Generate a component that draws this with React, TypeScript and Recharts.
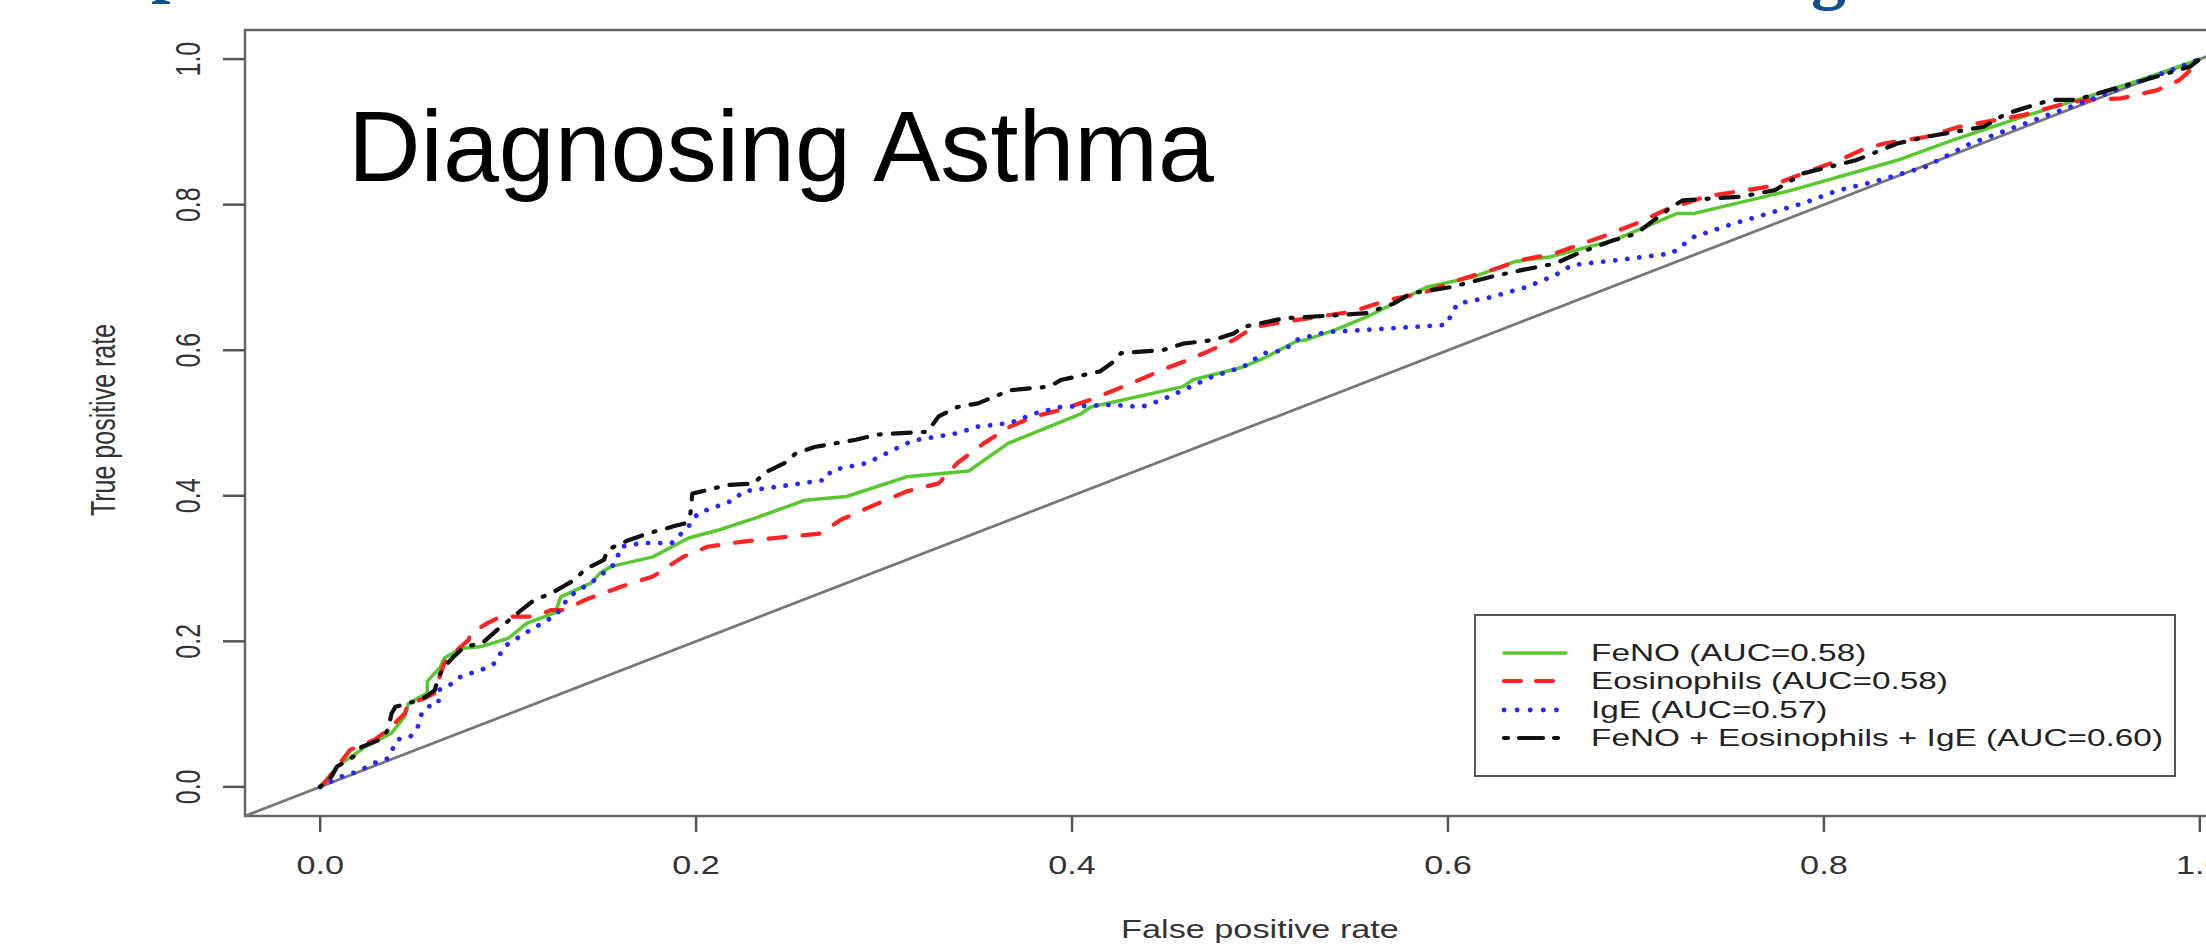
import React from "react";
import { LineChart, Line, XAxis, YAxis, ReferenceArea, ReferenceLine, Legend } from "recharts";

// tick values on both axes
const xTicks = [0, 0.2, 0.4, 0.6, 0.8, 1.0];
const yTicks = [0, 0.2, 0.4, 0.6, 0.8, 1.0];

// ROC curves: [false positive rate, true positive rate]
const fenoRoc = [
    [0, 0], [0.009, 0.028], [0.024, 0.055], [0.038, 0.074], [0.045, 0.097], [0.047, 0.115],
    [0.057, 0.129], [0.057, 0.145], [0.064, 0.165], [0.066, 0.177], [0.075, 0.19], [0.086, 0.193],
    [0.1, 0.204], [0.11, 0.225], [0.125, 0.239], [0.128, 0.261], [0.144, 0.28], [0.149, 0.294],
    [0.155, 0.303], [0.177, 0.316], [0.196, 0.342], [0.212, 0.353], [0.231, 0.369], [0.258, 0.394],
    [0.28, 0.399], [0.312, 0.426], [0.345, 0.434], [0.366, 0.472], [0.405, 0.513], [0.41, 0.522],
    [0.459, 0.55], [0.464, 0.559], [0.491, 0.577], [0.502, 0.589], [0.519, 0.612], [0.524, 0.614],
    [0.54, 0.628], [0.557, 0.646], [0.589, 0.687], [0.614, 0.701], [0.636, 0.722], [0.654, 0.728],
    [0.688, 0.751], [0.722, 0.788], [0.731, 0.788], [0.783, 0.82], [0.839, 0.861], [0.869, 0.889],
    [0.906, 0.921], [0.946, 0.953], [0.968, 0.971], [1, 1],
];

const eosRoc = [
    [0, 0], [0.004, 0.01], [0.009, 0.028], [0.016, 0.051], [0.02, 0.055], [0.029, 0.065],
    [0.036, 0.078], [0.045, 0.101], [0.047, 0.115], [0.054, 0.12], [0.061, 0.129], [0.063, 0.147],
    [0.066, 0.17], [0.071, 0.184], [0.079, 0.202], [0.08, 0.211], [0.089, 0.225], [0.096, 0.234],
    [0.114, 0.234], [0.123, 0.243], [0.13, 0.243], [0.141, 0.257], [0.16, 0.275], [0.177, 0.289],
    [0.193, 0.316], [0.206, 0.33], [0.225, 0.337], [0.242, 0.342], [0.266, 0.348], [0.277, 0.367],
    [0.291, 0.383], [0.312, 0.406], [0.329, 0.417], [0.339, 0.445], [0.353, 0.472], [0.367, 0.495],
    [0.38, 0.509], [0.394, 0.518], [0.41, 0.532], [0.432, 0.555], [0.448, 0.573], [0.464, 0.589],
    [0.486, 0.614], [0.497, 0.632], [0.513, 0.639], [0.549, 0.653], [0.568, 0.669], [0.586, 0.678],
    [0.605, 0.696], [0.623, 0.71], [0.639, 0.724], [0.657, 0.733], [0.682, 0.756], [0.7, 0.774],
    [0.716, 0.793], [0.737, 0.811], [0.771, 0.825], [0.789, 0.843], [0.808, 0.861], [0.82, 0.875],
    [0.832, 0.884], [0.854, 0.893], [0.872, 0.907], [0.891, 0.916], [0.906, 0.923], [0.928, 0.939],
    [0.94, 0.944], [0.958, 0.946], [0.977, 0.957], [0.989, 0.971], [0.995, 0.985], [1, 1],
];

const igeRoc = [
    [0, 0], [0.011, 0.014], [0.02, 0.021], [0.029, 0.033], [0.036, 0.039], [0.041, 0.065],
    [0.048, 0.069], [0.052, 0.083], [0.054, 0.101], [0.057, 0.11], [0.063, 0.115], [0.063, 0.133],
    [0.068, 0.138], [0.075, 0.152], [0.086, 0.161], [0.093, 0.17], [0.098, 0.193], [0.112, 0.216],
    [0.121, 0.229], [0.128, 0.243], [0.132, 0.261], [0.146, 0.284], [0.157, 0.307], [0.16, 0.33],
    [0.171, 0.335], [0.187, 0.335], [0.196, 0.358], [0.201, 0.376], [0.22, 0.394], [0.225, 0.406],
    [0.242, 0.412], [0.269, 0.422], [0.272, 0.435], [0.291, 0.445], [0.301, 0.458], [0.312, 0.472],
    [0.318, 0.477], [0.339, 0.486], [0.35, 0.495], [0.367, 0.5], [0.38, 0.513], [0.394, 0.522],
    [0.421, 0.525], [0.437, 0.522], [0.448, 0.532], [0.459, 0.545], [0.475, 0.564], [0.491, 0.577],
    [0.502, 0.596], [0.513, 0.6], [0.519, 0.614], [0.535, 0.625], [0.557, 0.628], [0.599, 0.635],
    [0.605, 0.664], [0.623, 0.673], [0.642, 0.687], [0.657, 0.703], [0.666, 0.717], [0.691, 0.724],
    [0.719, 0.733], [0.731, 0.756], [0.752, 0.774], [0.768, 0.786], [0.789, 0.802], [0.808, 0.82],
    [0.826, 0.831], [0.854, 0.852], [0.878, 0.884], [0.897, 0.902], [0.921, 0.925], [0.946, 0.948],
    [0.965, 0.967], [0.983, 0.983], [1, 1],
];

const comboRoc = [
    [0, 0], [0.006, 0.014], [0.009, 0.028], [0.018, 0.042], [0.022, 0.055], [0.032, 0.065],
    [0.036, 0.078], [0.038, 0.101], [0.04, 0.11], [0.047, 0.115], [0.054, 0.12], [0.061, 0.133],
    [0.063, 0.152], [0.066, 0.165], [0.071, 0.179], [0.077, 0.193], [0.086, 0.197], [0.096, 0.22],
    [0.103, 0.234], [0.107, 0.243], [0.114, 0.257], [0.123, 0.266], [0.135, 0.284], [0.139, 0.294],
    [0.144, 0.303], [0.151, 0.312], [0.153, 0.326], [0.164, 0.339], [0.174, 0.348], [0.188, 0.358],
    [0.194, 0.362], [0.197, 0.376], [0.198, 0.403], [0.217, 0.415], [0.231, 0.417], [0.236, 0.431],
    [0.247, 0.445], [0.253, 0.458], [0.263, 0.467], [0.285, 0.477], [0.296, 0.484], [0.323, 0.488],
    [0.329, 0.509], [0.339, 0.522], [0.35, 0.527], [0.367, 0.545], [0.388, 0.55], [0.394, 0.559],
    [0.415, 0.571], [0.421, 0.582], [0.426, 0.596], [0.448, 0.6], [0.459, 0.609], [0.475, 0.614],
    [0.486, 0.623], [0.491, 0.632], [0.513, 0.644], [0.54, 0.648], [0.557, 0.651], [0.571, 0.664],
    [0.58, 0.678], [0.602, 0.687], [0.623, 0.701], [0.639, 0.71], [0.657, 0.719], [0.669, 0.733],
    [0.688, 0.751], [0.7, 0.76], [0.719, 0.797], [0.725, 0.806], [0.756, 0.811], [0.774, 0.82],
    [0.789, 0.843], [0.817, 0.861], [0.839, 0.884], [0.854, 0.893], [0.885, 0.907], [0.897, 0.925],
    [0.921, 0.944], [0.934, 0.944], [0.958, 0.962], [0.977, 0.976], [0.995, 0.99], [1, 1],
];

const seriesNames = [
    "FeNO (AUC=0.58)",
    "Eosinophils (AUC=0.58)",
    "IgE (AUC=0.57)",
    "FeNO + Eosinophils + IgE (AUC=0.60)",
];

// the R plot was stretched sideways when pasted into the slide
const SX = 1.37;
const FONT = "'Liberation Sans', Arial, Helvetica, sans-serif";

const toPoints = (pairs: number[][]) => pairs.map(([fpr, tpr]) => ({ fpr, tpr }));

const series = [
    { name: seriesNames[0], data: toPoints(fenoRoc), color: "#57c92e", width: 3.5, dash: undefined, legendDash: undefined },
    { name: seriesNames[1], data: toPoints(eosRoc), color: "#ff2424", width: 4.2, dash: "17 17", legendDash: "17 15" },
    { name: seriesNames[2], data: toPoints(igeRoc), color: "#2626ff", width: 4.8, dash: "0.1 12", legendDash: "0.1 13" },
    { name: seriesNames[3], data: toPoints(comboRoc), color: "#111111", width: 4.2, dash: "2 12 18 12", legendDash: "4 11 24 11" },
];

function XTick({ x, y, payload }: any) {
    return (
        <text transform={`translate(${x},${y + 40}) scale(${SX},1)`} textAnchor="middle" fontSize={25} fill="#333" fontFamily={FONT}>
            {Number(payload.value).toFixed(1)}
        </text>
    );
}

function YTick({ x, y, payload }: any) {
    return (
        <text transform={`translate(${x - 21},${y}) scale(${SX},1) rotate(-90)`} textAnchor="middle" fontSize={25} fill="#333" fontFamily={FONT}>
            {Number(payload.value).toFixed(1)}
        </text>
    );
}

function XTitle({ viewBox }: any) {
    const vb = viewBox || { x: 245, y: 816, width: 2030, height: 133 };
    return (
        <text transform={`translate(${vb.x + vb.width / 2},${vb.y + 122}) scale(${SX},1)`} textAnchor="middle" fontSize={25} fill="#333" fontFamily={FONT}>
            False positive rate
        </text>
    );
}

function YTitle({ viewBox }: any) {
    const vb = viewBox || { x: 0, y: 30, width: 245, height: 786 };
    return (
        <text transform={`translate(115,${vb.y + vb.height / 2 - 3}) scale(${SX},1) rotate(-90)`} textAnchor="middle" fontSize={25} fill="#333" fontFamily={FONT}>
            True positive rate
        </text>
    );
}

function RocLegend() {
    return (
        <div style={{ width: 702, height: 163, boxSizing: "border-box", border: "2.5px solid #555", background: "#fff", position: "relative", fontFamily: FONT }}>
            {series.map((s, i) => (
                <div key={s.name} style={{ position: "absolute", left: 0, top: 22.5 + i * 28.5, height: 28, width: "100%" }}>
                    <svg width={100} height={28} style={{ position: "absolute", left: 0, top: 0 }}>
                        <line x1={28} x2={90} y1={14} y2={14} stroke={s.color} strokeWidth={s.width} strokeDasharray={s.legendDash} strokeLinecap="round" />
                    </svg>
                    <span style={{ position: "absolute", left: 115, top: 0, lineHeight: "28px", fontSize: 24, whiteSpace: "nowrap", color: "#222", transform: "scaleX(1.39)", transformOrigin: "0 50%" }}>
                        {s.name}
                    </span>
                </div>
            ))}
        </div>
    );
}

export default function App() {
    return (
        <div style={{ position: "absolute", left: 0, top: 0, width: 2206, height: 949, overflow: "hidden", background: "#fff" }}>
            <LineChart width={2300} height={949} margin={{ top: 30, right: 25, bottom: 0, left: 0 }}>
                <XAxis
                    type="number"
                    dataKey="fpr"
                    domain={[-0.04, 1.04]}
                    ticks={xTicks}
                    interval={0}
                    height={133}
                    axisLine={false}
                    tickSize={16}
                    tickLine={{ stroke: "#555", strokeWidth: 2.5 }}
                    tick={<XTick />}
                    label={<XTitle />}
                />
                <YAxis
                    type="number"
                    dataKey="tpr"
                    domain={[-0.04, 1.04]}
                    ticks={yTicks}
                    interval={0}
                    width={245}
                    axisLine={false}
                    tickSize={22}
                    tickLine={{ stroke: "#555", strokeWidth: 2.5 }}
                    tick={<YTick />}
                    label={<YTitle />}
                />
                <ReferenceArea x1={-0.04} x2={1.04} y1={-0.04} y2={1.04} fill="none" fillOpacity={0} stroke="#666" strokeWidth={2.5} ifOverflow="visible" />
                <ReferenceLine segment={[{ x: -0.04, y: -0.04 }, { x: 1.04, y: 1.04 }]} stroke="#777" strokeWidth={2.8} ifOverflow="visible" />
                {series.map((s) => (
                    <Line
                        key={s.name}
                        name={s.name}
                        data={s.data}
                        dataKey="tpr"
                        type="linear"
                        stroke={s.color}
                        strokeWidth={s.width}
                        strokeDasharray={s.dash}
                        strokeLinecap="round"
                        strokeLinejoin="round"
                        dot={false}
                        activeDot={false}
                        isAnimationActive={false}
                    />
                ))}
                <Legend
                    layout="vertical"
                    align="center"
                    verticalAlign="middle"
                    content={<RocLegend />}
                    wrapperStyle={{ left: 1474, top: 614, width: 702, height: 163 }}
                />
            </LineChart>
            <svg width={2206} height={949} style={{ position: "absolute", left: 0, top: 0, pointerEvents: "none" }}>
                <text x={348} y={181} fontSize={100.5} fill="#000" fontFamily={FONT}>
                    Diagnosing Asthma
                </text>
                <text x={151} y={-11} fontSize={70} fontWeight="bold" fill="#114f8f" fontFamily="'Liberation Serif', 'DejaVu Serif', serif">
                    p
                </text>
                <text x={1811} y={-4} fontSize={70} fontWeight="bold" fill="#114f8f" fontFamily="'Liberation Serif', 'DejaVu Serif', serif">
                    g
                </text>
            </svg>
        </div>
    );
}
